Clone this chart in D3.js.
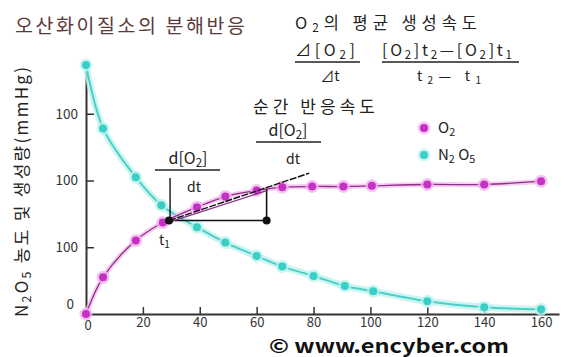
<!DOCTYPE html>
<html>
<head>
<meta charset="utf-8">
<script src="https://cdn.jsdelivr.net/npm/d3@7"></script>
<style>
  html, body { margin: 0; padding: 0; background: #fff; }
  svg { display: block; }
  text { font-family: "Noto Sans CJK KR", "DejaVu Sans", sans-serif; }
</style>
</head>
<body>
<svg id="chart" width="573" height="357"></svg>
<script>
// Reaction time (s) at each measurement
const timesN2O5 = [0, 6, 17.5, 26.5, 39, 49, 60, 69, 80, 91, 101, 120, 140, 160];
const valuesN2O5 = [373, 278, 205, 163, 130, 107, 87, 71, 57, 42, 34, 19, 10, 7];
const timesO2 = [0, 6, 17.5, 27, 39, 49, 60, 69, 79.5, 90.5, 100.5, 120, 140, 160];
const valuesO2 = [0, 55, 110, 137, 160, 176, 185, 190, 191, 191, 192, 194, 194, 199];

// Tangent construction at t1
const pointT1 = [29.2, 140];
const pointT2 = [63.5, 187];
const tangentEnd = [78.5, 211];

const xTicks = [20, 40, 60, 80, 100, 120, 140, 160];
const xTickLabels = ["20", "40", "60", "80", "100", "120", "140", "160"];
const yTicks = [0, 100, 200, 300];
const yTickLabels = ["0", "100", "100", "100"];

const svg = d3.select("#chart");
const x = d3.scaleLinear().domain([0, 166.3]).range([86, 559]);
const y = d3.scaleLinear().domain([0, 373]).range([314, 65]);

const magenta = "#c431c4", magentaLine = "#8e2f86", magentaHalo = "#f2b6ee";
const cyan = "#39cfc6", cyanLine = "#4ccfc6", cyanHalo = "#bff2ee";

// Axes
const xAxis = d3.axisBottom(x).tickValues(xTicks)
  .tickFormat((d, i) => xTickLabels[i]).tickSizeInner(-7).tickSizeOuter(0).tickPadding(4);
const gx = svg.append("g").attr("transform", `translate(0,${y(0)})`).call(xAxis);
gx.select(".domain").attr("stroke", "#333").attr("stroke-width", 2);
gx.selectAll(".tick line").attr("stroke", "#333").attr("stroke-width", 1.5);
gx.selectAll(".tick text").attr("font-family", "DejaVu Sans").attr("font-size", 13).attr("fill", "#333");
// x-origin label
svg.append("text").attr("x", x(0) + 2).attr("y", y(0) + 16).attr("text-anchor", "middle")
  .attr("font-family", "DejaVu Sans").attr("font-size", 13).attr("fill", "#333").text("0");

const yAxis = d3.axisLeft(y).tickValues(yTicks)
  .tickFormat((d, i) => yTickLabels[i]).tickSizeInner(-8).tickSizeOuter(0).tickPadding(8);
const gy = svg.append("g").attr("transform", `translate(${x(0)},0)`).call(yAxis);
gy.select(".domain").attr("stroke", "#333").attr("stroke-width", 2);
gy.selectAll(".tick line").attr("stroke", "#333").attr("stroke-width", 1.5)
  .attr("display", d => d === 0 ? "none" : null);
gy.selectAll(".tick text").attr("font-family", "DejaVu Sans").attr("font-size", 13.5).attr("fill", "#333")
  .attr("dx", d => d === 0 ? -4 : 0)
  .attr("dy", d => d === 0 ? "-0.4em" : "0.32em");

// Series
const n2o5 = timesN2O5.map((t, i) => [t, valuesN2O5[i]]);
const o2 = timesO2.map((t, i) => [t, valuesO2[i]]);
const line = d3.line().x(d => x(d[0])).y(d => y(d[1])).curve(d3.curveCatmullRom.alpha(0.5));

svg.append("path").datum(n2o5).attr("d", line).attr("fill", "none")
  .attr("stroke", cyanHalo).attr("stroke-width", 7).attr("opacity", 0.8);
svg.append("path").datum(n2o5).attr("d", line).attr("fill", "none")
  .attr("stroke", cyanLine).attr("stroke-width", 2);
svg.append("path").datum(o2).attr("d", line).attr("fill", "none")
  .attr("stroke", magentaHalo).attr("stroke-width", 5).attr("opacity", 0.7);
svg.append("path").datum(o2).attr("d", line).attr("fill", "none")
  .attr("stroke", magentaLine).attr("stroke-width", 1.3);

function dots(data, fill, halo) {
  svg.append("g").selectAll("circle.h").data(data).join("circle")
    .attr("cx", d => x(d[0])).attr("cy", d => y(d[1])).attr("r", 6.5).attr("fill", halo).attr("opacity", 0.8);
  svg.append("g").selectAll("circle.d").data(data).join("circle")
    .attr("cx", d => x(d[0])).attr("cy", d => y(d[1])).attr("r", 4).attr("fill", fill);
}
dots(n2o5, cyan, cyanHalo);
dots(o2, magenta, magentaHalo);

// Tangent / secant construction
const corner = [pointT2[0], pointT1[1]];
const seg = (a, b, w, dash) => svg.append("line")
  .attr("x1", x(a[0])).attr("y1", y(a[1])).attr("x2", x(b[0])).attr("y2", y(b[1]))
  .attr("stroke", "#111").attr("stroke-width", w).attr("stroke-dasharray", dash || null);
seg(pointT1, corner, 1.6);
seg(corner, pointT2, 1.6);
svg.append("line").attr("x1", x(pointT1[0])).attr("y1", y(pointT1[1]) + 1.5)
  .attr("x2", x(pointT2[0])).attr("y2", y(pointT2[1]) + 1.5)
  .attr("stroke", magentaLine).attr("stroke-width", 1.3);
seg(pointT1, tangentEnd, 1.4, "7,1.5");
// pointer from the instantaneous-rate label down to t1
svg.append("line").attr("x1", x(pointT1[0]) + 1).attr("y1", 178)
  .attr("x2", x(pointT1[0]) + 1).attr("y2", y(pointT1[1]))
  .attr("stroke", "#111").attr("stroke-width", 1.4);
svg.append("circle").attr("cx", x(pointT1[0])).attr("cy", y(pointT1[1])).attr("r", 4).attr("fill", "#111");
svg.append("circle").attr("cx", x(corner[0])).attr("cy", y(corner[1])).attr("r", 4).attr("fill", "#111");
svg.append("text").attr("x", x(pointT1[0]) - 10).attr("y", y(pointT1[1]) + 24)
  .attr("font-size", 14).attr("fill", "#222").html('t<tspan font-size="10" dy="3">1</tspan>');

// Text helpers
function chemText(xp, yp, parts, size, anchor, len) {
  const t = svg.append("text").attr("x", xp).attr("y", yp).attr("font-size", size)
    .attr("fill", "#222").attr("text-anchor", anchor || "start");
  if (len) t.attr("textLength", len).attr("lengthAdjust", "spacing");
  let shifted = false;
  parts.forEach(p => {
    const sub = Array.isArray(p);
    const s = t.append("tspan").text(sub ? p[0] : p);
    if (sub) { s.attr("font-size", size * 0.72).attr("dy", shifted ? 0 : 3); shifted = true; }
    else if (shifted) { s.attr("dy", -3); shifted = false; }
  });
  return t;
}
const hline = (x1, x2, yy) => svg.append("line").attr("x1", x1).attr("x2", x2).attr("y1", yy).attr("y2", yy)
  .attr("stroke", "#222").attr("stroke-width", 1.5);

// Title
svg.append("text").attr("x", 15).attr("y", 33).attr("font-size", 19.5).attr("fill", "#5a3a3a")
  .attr("textLength", 230).attr("lengthAdjust", "spacing").text("오산화이질소의 분해반응");

// Average rate
chemText(295, 29, ["O", ["2"], "의 평균 생성속도"], 16.5, "start", 182);
chemText(295, 56, ["⊿[O", ["2"], "]"], 16, "start", 60);
hline(295, 360, 62);
chemText(330, 81, ["⊿t"], 14, "middle");
chemText(382, 56, ["[O", ["2"], "]t", ["2"], "—[O", ["2"], "]t", ["1"]], 16, "start", 130);
hline(382, 519, 62);
chemText(417, 81, ["t", ["2"], "—      t", ["1"]], 14, "start", 64);

// Instantaneous rate
chemText(253, 113, ["순간 반응속도"], 17, "start", 122);
chemText(288, 136, ["d[O", ["2"], "]"], 16, "middle");
hline(256, 321, 142);
chemText(293, 164, ["dt"], 14, "middle");
chemText(188, 164, ["d[O", ["2"], "]"], 16, "middle");
hline(155, 220, 170);
chemText(194, 192, ["dt"], 14, "middle");

// Legend
svg.append("circle").attr("cx", 424).attr("cy", 128).attr("r", 6.5).attr("fill", magentaHalo).attr("opacity", 0.8);
svg.append("circle").attr("cx", 424).attr("cy", 128).attr("r", 4).attr("fill", magenta);
chemText(438, 133, ["O", ["2"]], 15);
svg.append("circle").attr("cx", 424).attr("cy", 155).attr("r", 6.5).attr("fill", cyanHalo).attr("opacity", 0.8);
svg.append("circle").attr("cx", 424).attr("cy", 155).attr("r", 4).attr("fill", cyan);
chemText(438, 160, ["N", ["2"], " O", ["5"]], 15);

// Y-axis title
const yt = chemText(0, 0, ["N", ["2"], "O", ["5"], " 농도 및 생성량(mmHg)"], 17, "middle", 250);
yt.attr("transform", "translate(28,192) rotate(-90)");

// Credit
svg.append("text").attr("x", 389).attr("y", 353).attr("text-anchor", "middle")
  .attr("font-family", "Liberation Serif, serif").attr("font-weight", "bold").attr("font-size", 19)
  .attr("textLength", 240).attr("lengthAdjust", "spacingAndGlyphs")
  .attr("fill", "#111").text("© www.encyber.com");
</script>
</body>
</html>
